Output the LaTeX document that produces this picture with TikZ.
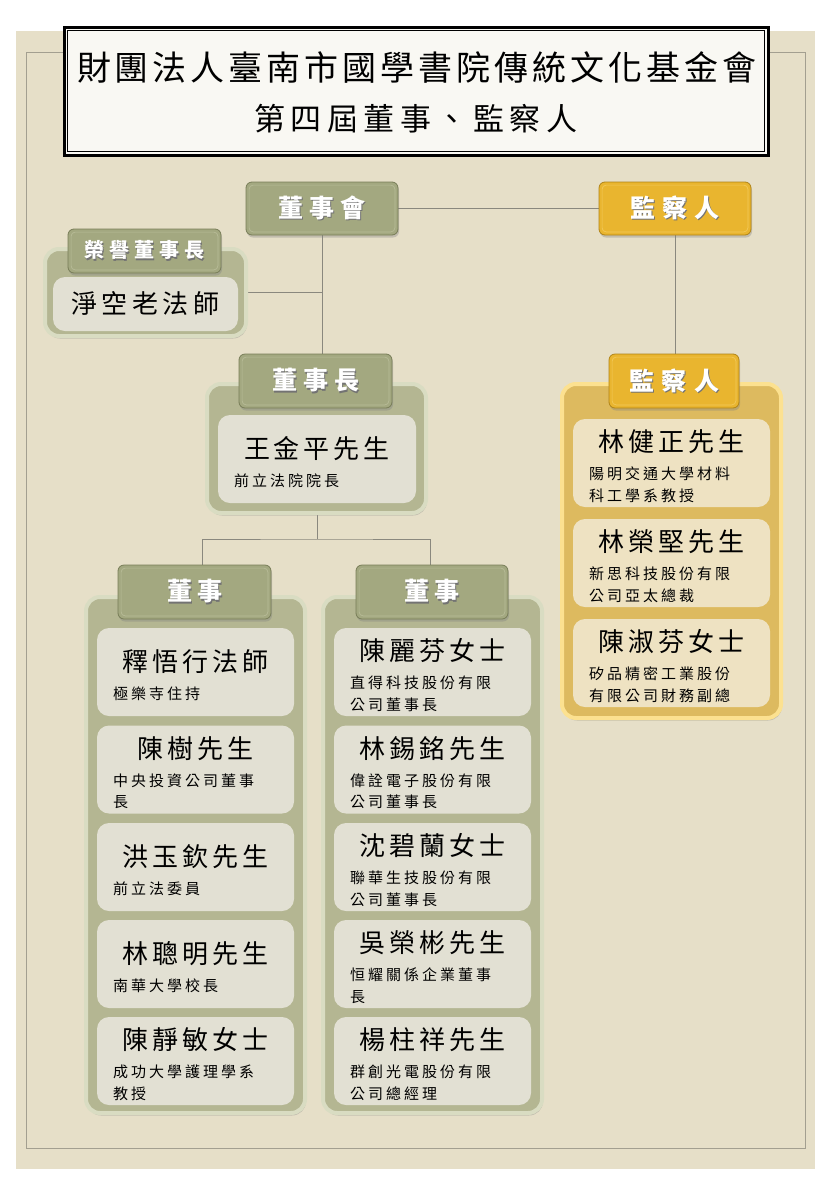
\documentclass[tikz,border=0pt]{standalone}
\usepackage{fontspec}
\setmainfont{Noto Sans CJK TC}
\usetikzlibrary{calc,shadows,backgrounds}
\definecolor{pagebg}{HTML}{E6DFC8}
\definecolor{framec}{HTML}{A39F90}
\definecolor{titlebg}{HTML}{F9F8F3}
\definecolor{olivehd}{HTML}{A3A880}
\definecolor{olivedk}{HTML}{787D58}
\definecolor{olivehl}{HTML}{B8BC98}
\definecolor{olivect}{HTML}{B4B692}
\definecolor{oliverg}{HTML}{D9DCC2}
\definecolor{olivein}{HTML}{E2E0D3}
\definecolor{goldhd}{HTML}{E9B52F}
\definecolor{golddk}{HTML}{B08418}
\definecolor{goldhl}{HTML}{F2C95A}
\definecolor{goldct}{HTML}{DDBA5F}
\definecolor{goldrg}{HTML}{FCE190}
\definecolor{goldin}{HTML}{EEE2C2}
\definecolor{connc}{HTML}{8A887E}
\makeatletter
\newcommand\spc[2]{\def\spc@sep{}\@tfor\spc@c:=#2\do{\spc@sep\spc@c\def\spc@sep{\kern#1pt}}}
\makeatother
\newcommand\shtext[1]{\rlap{\kern1.2pt\raisebox{-1.2pt}{\color{black!55}#1}}{\color{white}#1}}
\tikzset{
  shd/.style={drop shadow={opacity=0.35,shadow xshift=1pt,shadow yshift=-2.5pt}},
  hdrO/.style={draw=olivedk, fill=olivehd, rounded corners=6pt, line width=0.8pt, inner sep=0pt, shd},
  hdrG/.style={draw=golddk, fill=goldhd, rounded corners=6pt, line width=0.8pt, inner sep=0pt, shd},
  hdrOinner/.style={draw=olivehl, line width=0.7pt, rounded corners=4pt},
  hdrGinner/.style={draw=goldhl, line width=0.7pt, rounded corners=4pt},
  contO/.style={draw=oliverg, fill=olivect, line width=4pt, rounded corners=14pt, inner sep=0pt, shd},
  contG/.style={draw=goldrg, fill=goldct, line width=4pt, rounded corners=14pt, inner sep=0pt, shd},
  inO/.style={fill=olivein, rounded corners=12pt, minimum width=197pt, minimum height=88pt, inner sep=0pt},
  inG/.style={fill=goldin, rounded corners=12pt, minimum width=197pt, minimum height=88pt, inner sep=0pt},
  nametext/.style={inner sep=0pt, font=\fontsize{26}{30}\selectfont},
  subtext/.style={inner sep=0pt, anchor=west, font=\fontsize{15}{18}\selectfont},
  conn/.style={draw=connc, line width=1pt},
  titleouter/.style={draw=black, line width=3pt, fill=titlebg, minimum width=704pt, minimum height=128pt, inner sep=0pt},
}
\newcommand\hdr[8]{%
  \node[#5, minimum width=#3pt, minimum height=#4pt] (#1) at (#2) {};
  \draw[#5inner] ($(#1.north west)+(3.5,3.5)$) rectangle ($(#1.south east)+(-3.5,-3.5)$);
  \node[inner sep=0pt, font=\bfseries\fontsize{#6}{#6}\selectfont] (#1t) at (#1) {\shtext{\spc{#7}{#8}}};
}
\newcommand\pone[5]{%
  \node[#5] (#1) at (#2) {};
  \node[nametext] (#1n) at ($(#1.north)+(0,34)$) {\spc{4}{#3}};
  \node[subtext] (#1s) at ($(#1.north west)+(16,66)$) {\spc{3}{#4}};
}
\newcommand\ptwo[6]{%
  \node[#6] (#1) at (#2) {};
  \node[nametext] (#1n) at ($(#1.north)+(0,23)$) {\spc{4}{#3}};
  \node[subtext] (#1s) at ($(#1.north west)+(16,55)$) {\spc{3}{#4}};
  \node[subtext] (#1t) at ($(#1.north west)+(16,77)$) {\spc{3}{#5}};
}
\begin{document}
\begin{tikzpicture}[x=1pt,y=-1pt]
\useasboundingbox (0,0) rectangle (831,1200);
\begin{scope}[on background layer]
  \fill[white] (0,0) rectangle (831,1200);
  \fill[pagebg] (16,31) rectangle (815,1169);
  \draw[framec, line width=1pt] (26,52) rectangle (805,1148);
\end{scope}
% title
\node[titleouter] (title) at (416,91) {};
\draw[black, line width=1.2pt] ($(title.north west)+(5,5)$) rectangle ($(title.south east)+(-5,-5)$);
\node[inner sep=0pt, font=\fontsize{34}{38}\selectfont] (t1) at (417,67) {\spc{4}{財團法人臺南市國學書院傳統文化基金會}};
\node[inner sep=0pt, font=\fontsize{31}{35}\selectfont] (t2) at (416,119) {\spc{5.5}{第四屆董事、監察人}};
% containers
\node[contO, minimum width=201pt, minimum height=87pt] (hon) at (145.5,292.5) {};
\node[contO, minimum width=219pt, minimum height=129pt] (dzc) at (316.5,448.5) {};
\node[contO, minimum width=219pt, minimum height=516pt] (lc) at (195.5,855) {};
\node[contO, minimum width=219pt, minimum height=516pt] (rc) at (432.5,855) {};
\node[contG, minimum width=219pt, minimum height=334pt] (jc) at (671.5,551) {};
% headers
\hdr{dsh}{322,208.5}{152}{53}{hdrO}{25}{6}{董事會}
\hdr{jt}{675,208.5}{152}{53}{hdrG}{25}{7}{監察人}
\hdr{honh}{144.5,251}{153}{44}{hdrO}{20}{5}{榮譽董事長}
\hdr{dzh}{315.5,381}{153}{54}{hdrO}{25}{6}{董事長}
\hdr{ldh}{194.5,592}{153}{54}{hdrO}{25}{5}{董事}
\hdr{rdh}{432,592}{152}{54}{hdrO}{25}{5}{董事}
\hdr{jl}{674,381}{130}{54}{hdrG}{25}{7.5}{監察人}
% inner boxes
\node[inO, minimum width=185pt, minimum height=54pt, font=\fontsize{26}{30}\selectfont] (jk) at (145.5,304) {\spc{4.5}{淨空老法師}};
\pone{wang}{317,459}{王金平先生}{前立法院院長}{inO, minimum width=198pt}
% left column
\pone{l1}{195.5,672}{釋悟行法師}{極樂寺住持}{inO}
\ptwo{l2}{195.5,769.5}{陳樹先生}{中央投資公司董事}{長}{inO}
\pone{l3}{195.5,867}{洪玉欽先生}{前立法委員}{inO}
\pone{l4}{195.5,964}{林聰明先生}{南華大學校長}{inO}
\ptwo{l5}{195.5,1061}{陳靜敏女士}{成功大學護理學系}{教授}{inO}
% right column
\ptwo{r1}{432.5,672}{陳麗芬女士}{直得科技股份有限}{公司董事長}{inO}
\ptwo{r2}{432.5,769.5}{林錫銘先生}{偉詮電子股份有限}{公司董事長}{inO}
\ptwo{r3}{432.5,867}{沈碧蘭女士}{聯華生技股份有限}{公司董事長}{inO}
\ptwo{r4}{432.5,964}{吳榮彬先生}{恒耀關係企業董事}{長}{inO}
\ptwo{r5}{432.5,1061}{楊柱祥先生}{群創光電股份有限}{公司總經理}{inO}
% supervisors
\ptwo{s1}{671.5,463}{林健正先生}{陽明交通大學材料}{科工學系教授}{inG}
\ptwo{s2}{671.5,563}{林榮堅先生}{新思科技股份有限}{公司亞太總裁}{inG}
\ptwo{s3}{671.5,663}{陳淑芬女士}{矽品精密工業股份}{有限公司財務副總}{inG}
% connectors
\begin{scope}[on background layer]
  \coordinate (split) at (317,539);
  \draw[conn] (dsh.east) -- (jt.west);
  \draw[conn] (dsh.south) -- (dsh.south |- dzh.north);
  \draw[conn] (hon.east) -- (hon.east -| dsh.south);
  \draw[conn] (jt.south) -- (jt.south |- jl.north);
  \draw[conn] (wang.south) -- (split);
  \draw[conn] ([xshift=8pt]ldh.north) |- (split) -| ([xshift=-2pt]rdh.north);
\end{scope}
\end{tikzpicture}
\end{document}
